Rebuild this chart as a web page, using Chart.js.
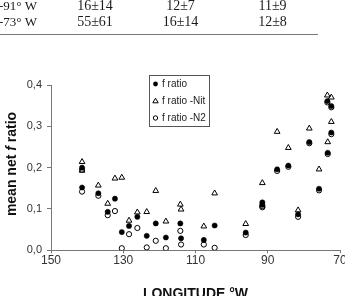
<!DOCTYPE html>
<html>
<head>
<meta charset="utf-8">
<script src="https://cdn.jsdelivr.net/npm/chart.js@4/dist/chart.umd.min.js"></script>
<style>
html, body { margin: 0; padding: 0; background: #fff; }
#wrap { position: relative; width: 345px; height: 296px; overflow: hidden; }
</style>
</head>
<body>
<div id="wrap"><canvas id="grafico" width="345" height="296"></canvas></div>
<script>
// Fragmento de la tabla superior
const tablaLon = ['-91\u00b0 W', '-73\u00b0 W'];
const tablaCol1 = ['16\u00b114', '55\u00b161'];
const tablaCol2 = ['12\u00b17', '16\u00b114'];
const tablaCol3 = ['11\u00b19', '12\u00b18'];

// Series (longitud °W, f ratio)
const lonF = [141.4, 141.4, 136.9, 134.3, 132.3, 130.4, 128.4, 126.1, 123.5, 121.0, 118.2, 114.2, 114.0,
    107.7, 104.7, 96.1, 91.5, 91.5, 87.4, 84.3, 81.6, 78.5, 75.8, 73.5, 72.4, 72.4, 73.4];
const fRatio = [0.200, 0.152, 0.138, 0.093, 0.125, 0.044, 0.059, 0.081, 0.035, 0.065, 0.031, 0.065, 0.029,
    0.025, 0.060, 0.043, 0.116, 0.110, 0.196, 0.205, 0.087, 0.262, 0.149, 0.361, 0.349, 0.285, 0.236];

const lonNit = [141.4, 141.4, 136.9, 134.3, 132.3, 130.4, 128.4, 126.1, 123.5, 121.0, 118.2, 114.2, 114.0,
    107.7, 104.7, 96.1, 91.5, 87.4, 84.3, 81.6, 78.5, 75.8, 73.5, 72.4, 72.4, 73.4];
const fRatioNit = [0.214, 0.193, 0.157, 0.113, 0.174, 0.176, 0.072, 0.092, 0.093, 0.144, 0.070, 0.111, 0.099,
    0.058, 0.138, 0.064, 0.163, 0.287, 0.248, 0.097, 0.295, 0.196, 0.375, 0.370, 0.311, 0.262];

const lonN2 = [141.4, 141.4, 136.9, 134.3, 132.3, 130.4, 128.4, 126.1, 123.5, 121.0, 118.2, 114.2, 114.0,
    107.7, 104.7, 96.1, 91.5, 91.5, 87.4, 84.3, 81.6, 78.5, 75.8, 73.5, 72.4, 72.4, 73.4];
const fRatioN2 = [0.195, 0.142, 0.132, 0.085, 0.095, 0.005, 0.039, 0.054, 0.007, 0.023, 0.005, 0.047, 0.014,
    0.014, 0.006, 0.037, 0.107, 0.104, 0.192, 0.202, 0.081, 0.259, 0.145, 0.358, 0.346, 0.281, 0.233];

const xTicks = [150, 130, 110, 90, 70];
const yTicks = [0, 0.1, 0.2, 0.3, 0.4];

const etiquetas = ['f ratio', 'f ratio -Nit', 'f ratio -N2'];

function puntos(xs, ys) {
    return xs.map((x, i) => ({ x, y: ys[i] }));
}

const extras = {
    id: 'extras',
    afterDraw(chart) {
        const ctx = chart.ctx;
        const area = chart.chartArea;
        ctx.save();

        // tabla
        ctx.fillStyle = '#1a1a1a';
        ctx.textBaseline = 'alphabetic';
        const filaY = [9.5, 26];
        filaY.forEach((y, i) => {
            ctx.font = '13px "Liberation Serif", "Times New Roman", serif';
            ctx.textAlign = 'right';
            ctx.fillText(tablaLon[i], 37, y);
            ctx.font = '14px "Liberation Serif", "Times New Roman", serif';
            ctx.textAlign = 'center';
            ctx.fillText(tablaCol1[i], 95, y);
            ctx.fillText(tablaCol2[i], 180.5, y);
            ctx.fillText(tablaCol3[i], 272.5, y);
        });
        ctx.strokeStyle = '#777';
        ctx.lineWidth = 1.2;
        ctx.beginPath();
        ctx.moveTo(0, 34.5);
        ctx.lineTo(318, 34.5);
        ctx.stroke();

        // leyenda
        ctx.strokeStyle = '#555';
        ctx.lineWidth = 1;
        ctx.strokeRect(149.5, 75.5, 60, 51);
        const ly = [84, 101, 118];
        ctx.font = '10px Arial, "Liberation Sans", sans-serif';
        ctx.textAlign = 'left';
        ctx.textBaseline = 'middle';
        ly.forEach((y, i) => {
            ctx.beginPath();
            ctx.strokeStyle = '#000';
            ctx.fillStyle = '#000';
            if (i === 0) {
                ctx.arc(155.5, y, 2.4, 0, Math.PI * 2);
                ctx.fill();
            } else if (i === 1) {
                ctx.moveTo(155.5, y - 2.8);
                ctx.lineTo(158.2, y + 1.8);
                ctx.lineTo(152.8, y + 1.8);
                ctx.closePath();
                ctx.stroke();
            } else {
                ctx.arc(155.5, y, 2.2, 0, Math.PI * 2);
                ctx.stroke();
            }
            ctx.fillStyle = '#1a1a1a';
            ctx.fillText(etiquetas[i], 162, y + 0.5);
        });

        // titulo eje Y con f en cursiva
        const fuente = '14px Arial, "Liberation Sans", sans-serif';
        const partes = [
            ['mean net ', 'bold ' + fuente],
            ['f', 'italic bold ' + fuente],
            [' ratio', 'bold ' + fuente]
        ];
        let total = 0;
        partes.forEach(p => { ctx.font = p[1]; total += ctx.measureText(p[0]).width; });
        ctx.translate(15.5, 164);
        ctx.rotate(-Math.PI / 2);
        ctx.fillStyle = '#111';
        ctx.textAlign = 'left';
        ctx.textBaseline = 'alphabetic';
        let x = -total / 2;
        partes.forEach(p => {
            ctx.font = p[1];
            ctx.fillText(p[0], x, 0);
            x += ctx.measureText(p[0]).width;
        });
        ctx.setTransform(1, 0, 0, 1, 0, 0);

        // titulo eje X
        ctx.font = 'bold ' + fuente;
        ctx.textAlign = 'center';
        ctx.fillStyle = '#111';
        ctx.fillText('LONGITUDE \u00b0W', (area.left + area.right) / 2, 298);
        ctx.restore();
    }
};

new Chart(document.getElementById('grafico'), {
    type: 'scatter',
    data: {
        datasets: [
            {
                label: etiquetas[0],
                data: puntos(lonF, fRatio),
                pointStyle: 'circle',
                pointRadius: 2.6,
                pointBackgroundColor: '#000',
                pointBorderColor: '#000',
                pointBorderWidth: 0.5,
                order: 1
            },
            {
                label: etiquetas[1],
                data: puntos(lonNit, fRatioNit),
                pointStyle: 'triangle',
                pointRadius: 3.3,
                pointBackgroundColor: 'rgba(255,255,255,0)',
                pointBorderColor: '#000',
                pointBorderWidth: 1,
                order: 2
            },
            {
                label: etiquetas[2],
                data: puntos(lonN2, fRatioN2),
                pointStyle: 'circle',
                pointRadius: 2.6,
                pointBackgroundColor: 'rgba(255,255,255,0)',
                pointBorderColor: '#000',
                pointBorderWidth: 1,
                order: 3
            }
        ]
    },
    options: {
        responsive: false,
        animation: false,
        events: [],
        layout: { padding: { top: 85, left: 0, right: 3, bottom: 0 } },
        plugins: { legend: { display: false }, tooltip: { enabled: false } },
        scales: {
            x: {
                type: 'linear',
                reverse: true,
                min: 70,
                max: 150,
                afterBuildTicks: s => { s.ticks = xTicks.map(v => ({ value: v })); },
                afterFit: s => { s.height = 45.7; s.paddingLeft = 0; s.paddingRight = 0; },
                border: { display: true, color: '#777', width: 1 },
                grid: { display: true, drawOnChartArea: false, drawTicks: true, tickLength: 3, color: '#777' },
                ticks: {
                    padding: 0,
                    color: '#333',
                    font: { family: 'Arial, "Liberation Sans", sans-serif', size: 12 },
                    maxRotation: 0,
                    callback: v => String(v)
                }
            },
            y: {
                min: 0,
                max: 0.4,
                afterBuildTicks: s => { s.ticks = yTicks.map(v => ({ value: v })); },
                afterFit: s => { s.width = 51; s.paddingTop = 0; s.paddingBottom = 0; },
                border: { display: true, color: '#777', width: 1 },
                grid: { display: true, drawOnChartArea: false, drawTicks: true, tickLength: 4, color: '#777' },
                ticks: {
                    padding: 5,
                    color: '#333',
                    font: { family: 'Arial, "Liberation Sans", sans-serif', size: 11 },
                    callback: v => v.toFixed(1).replace('.', ',')
                }
            }
        }
    },
    plugins: [extras]
});
</script>
</body>
</html>
